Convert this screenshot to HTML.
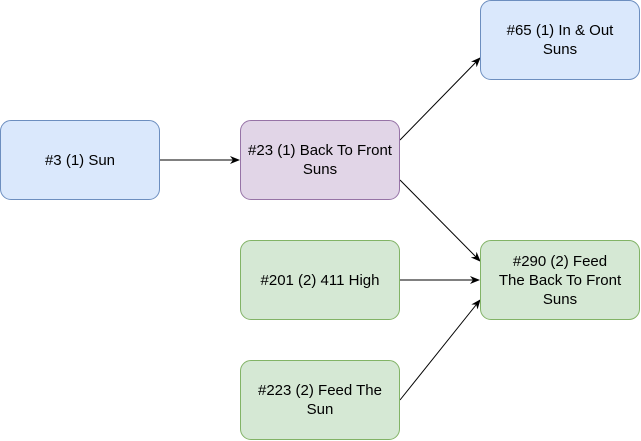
<!DOCTYPE html>
<html><head><style>
body{margin:0;width:641px;height:441px;background:#fff;position:relative;font-family:"Liberation Sans",Arial,sans-serif;}
.n{position:absolute;width:160px;height:80px;border-radius:11px;box-sizing:border-box;display:flex;align-items:center;justify-content:center;text-align:center;font-size:15px;line-height:19px;color:#000;white-space:nowrap;}
.b{background:#dae8fc;border:1px solid #6c8ebf;}
.p{background:#e1d5e7;border:1px solid #9673a6;}
.g{background:#d5e8d4;border:1px solid #82b366;}
svg{position:absolute;left:0;top:0;}
</style></head><body>
<svg width="641" height="441">
<defs><marker id="a" markerWidth="10" markerHeight="8" refX="9" refY="4" orient="auto" markerUnits="userSpaceOnUse"><path d="M0,0 L10,4 L0,8 L3,4z" fill="#000"/></marker></defs>
<g stroke="#000" stroke-width="1" fill="none">
<line x1="160" y1="160" x2="239" y2="160" marker-end="url(#a)"/>
<line x1="400" y1="140" x2="480" y2="58" marker-end="url(#a)"/>
<line x1="400" y1="180" x2="480" y2="261" marker-end="url(#a)"/>
<line x1="400" y1="280" x2="479" y2="280" marker-end="url(#a)"/>
<line x1="400" y1="400" x2="480" y2="300" marker-end="url(#a)"/>
</g></svg>
<div class="n b" style="left:0px;top:120px">#3 (1) Sun</div>
<div class="n p" style="left:240px;top:120px">#23 (1) Back To Front<br>Suns</div>
<div class="n b" style="left:480px;top:0px">#65 (1) In &amp; Out<br>Suns</div>
<div class="n g" style="left:240px;top:240px">#201 (2) 411 High</div>
<div class="n g" style="left:480px;top:240px">#290 (2) Feed<br>The Back To Front<br>Suns</div>
<div class="n g" style="left:240px;top:360px">#223 (2) Feed The<br>Sun</div>
</body></html>
